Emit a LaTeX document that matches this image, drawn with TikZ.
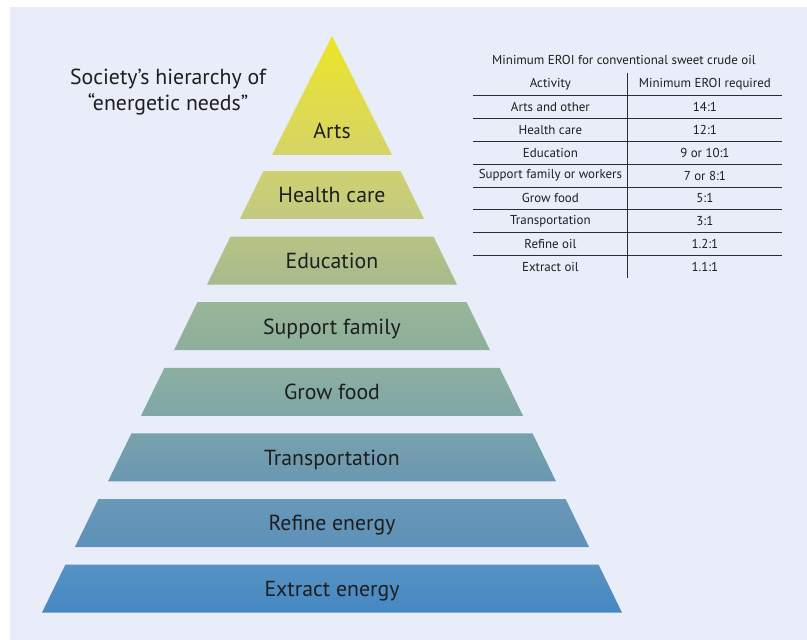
\documentclass[tikz,border=0pt]{standalone}
\usepackage{fontspec}
\setmainfont{PT Sans}
\usetikzlibrary{shapes.geometric, positioning, calc}

\definecolor{bgblue}{RGB}{233,237,249}
\definecolor{inktext}{RGB}{30,30,30}
\definecolor{rulegray}{RGB}{45,45,45}
\definecolor{artstop}{RGB}{236,229,40}
\definecolor{artsbot}{RGB}{214,212,104}
\definecolor{healthtop}{RGB}{207,208,112}
\definecolor{healthbot}{RGB}{194,202,128}
\definecolor{edutop}{RGB}{184,196,134}
\definecolor{edubot}{RGB}{166,186,140}
\definecolor{supptop}{RGB}{153,182,150}
\definecolor{suppbot}{RGB}{140,174,156}
\definecolor{growtop}{RGB}{140,176,160}
\definecolor{growbot}{RGB}{126,166,166}
\definecolor{transtop}{RGB}{120,162,172}
\definecolor{transbot}{RGB}{106,151,178}
\definecolor{refinetop}{RGB}{104,152,182}
\definecolor{refinebot}{RGB}{94,145,186}
\definecolor{extracttop}{RGB}{86,146,194}
\definecolor{extractbot}{RGB}{70,136,196}

\begin{document}
\begin{tikzpicture}[
    layer/.style={trapezium, trapezium angle=64, trapezium stretches body, text height=14.64pt, text depth=3.5pt, inner ysep=8pt, inner xsep=0pt, outer sep=0pt, font=\fontsize{15.5}{18}\selectfont, text=inktext},
    cell/.style={minimum height=0.57cm, inner sep=0pt, outer sep=0pt, font=\fontsize{9.2}{11}\selectfont, text=inktext},
    lcell/.style={cell, minimum width=3.875cm},
    rcell/.style={cell, minimum width=3.85cm},
    tabrule/.style={draw=rulegray, line width=0.7pt}
]
\useasboundingbox (0,0) rectangle (20.175,-16);
\fill[bgblue] (0.25,-0.175) rectangle (20.175,-16);

% pyramid
\node (health) [layer, minimum width=4.6cm, top color=healthtop, bottom color=healthbot] at (8.3,-4.875) {Health care};
\node (edu) [layer, minimum width=6.25cm, top color=edutop, bottom color=edubot, below=0.44cm of health] {Education};
\node (support) [layer, minimum width=7.9cm, top color=supptop, bottom color=suppbot, below=0.44cm of edu] {Support family};
\node (grow) [layer, minimum width=9.55cm, top color=growtop, bottom color=growbot, below=0.44cm of support] {Grow food};
\node (trans) [layer, minimum width=11.2cm, top color=transtop, bottom color=transbot, below=0.44cm of grow] {Transportation};
\node (refine) [layer, minimum width=12.85cm, top color=refinetop, bottom color=refinebot, below=0.44cm of trans] {Refine energy};
\node (extract) [layer, minimum width=14.5cm, top color=extracttop, bottom color=extractbot, below=0.44cm of refine] {Extract energy};

\coordinate (artsbase) at ($(health.north)+(0,0.4)$);
\shade[top color=artstop, bottom color=artsbot] ($(artsbase)+(-1.5,0)$) -- ($(artsbase)+(1.5,0)$) -- ($(artsbase)+(0,2.975)$) -- cycle;
\node (arts) [font=\fontsize{15.5}{18}\selectfont, text=inktext] at ($(artsbase)+(0,0.6)$) {Arts};

\node (title) [align=center, font=\fontsize{15.5}{18.5}\selectfont, text=inktext] at (4.2,-2.3) {Society’s hierarchy of\\“energetic needs”};

% EROI table
\node (hact) [lcell] at (13.76,-2.11) {Activity};
\node (hmin) [rcell, right=0cm of hact] {Minimum EROI required};
\node (a1) [lcell, below=0cm of hact] {Arts and other};
\node (v1) [rcell, right=0cm of a1] {14:1};
\node (a2) [lcell, below=0cm of a1] {Health care};
\node (v2) [rcell, right=0cm of a2] {12:1};
\node (a3) [lcell, below=0cm of a2] {Education};
\node (v3) [rcell, right=0cm of a3] {9 or 10:1};
\node (a4) [lcell, below=0cm of a3] {Support family or workers};
\node (v4) [rcell, right=0cm of a4] {7 or 8:1};
\node (a5) [lcell, below=0cm of a4] {Grow food};
\node (v5) [rcell, right=0cm of a5] {5:1};
\node (a6) [lcell, below=0cm of a5] {Transportation};
\node (v6) [rcell, right=0cm of a6] {3:1};
\node (a7) [lcell, below=0cm of a6] {Refine oil};
\node (v7) [rcell, right=0cm of a7] {1.2:1};
\node (a8) [lcell, below=0cm of a7] {Extract oil};
\node (v8) [rcell, right=0cm of a8] {1.1:1};
\node (tabtitle) [font=\fontsize{9.2}{11}\selectfont, text=inktext, inner sep=0pt, above=0.2cm of hact.north east, xshift=-0.1cm] {Minimum EROI for conventional sweet crude oil};

\draw [tabrule] (hact.north east) -- (a8.south east);
\draw [tabrule] (hact.south west) -- (hmin.south east);
\draw [tabrule] (a1.south west) -- (v1.south east);
\draw [tabrule] (a2.south west) -- (v2.south east);
\draw [tabrule] (a3.south west) -- (v3.south east);
\draw [tabrule] (a4.south west) -- (v4.south east);
\draw [tabrule] (a5.south west) -- (v5.south east);
\draw [tabrule] (a6.south west) -- (v6.south east);
\draw [tabrule] (a7.south west) -- (v7.south east);
\end{tikzpicture}
\end{document}
